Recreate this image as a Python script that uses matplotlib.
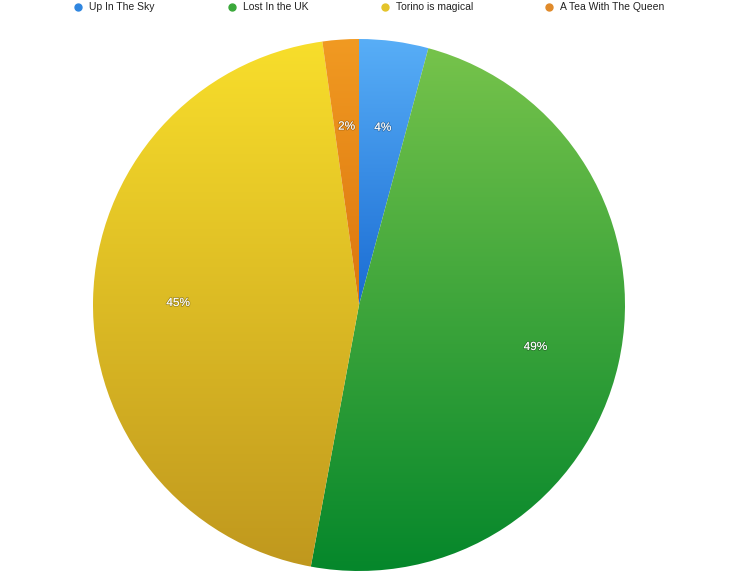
import numpy as np
import matplotlib
matplotlib.use('Agg')
import matplotlib.pyplot as plt
import matplotlib.patheffects as pe
from matplotlib.colors import LinearSegmentedColormap

# data
labels = ['Up In The Sky', 'Lost In the UK', 'Torino is magical', 'A Tea With The Queen']
values = [4.2, 48.7, 44.9, 2.2]
pct_text = ['4%', '49%', '45%', '2%']
# gradient colours per slice (top, bottom)
top_colors = ['#58aef7', '#76c34b', '#f8de2b', '#f19a22']
bottom_colors = ['#1a6cd3', '#05872b', '#c0981e', '#dc760e']
legend_colors = ['#2f86e0', '#3aa83a', '#e4c42a', '#e08a2a']

W, H = 734, 573
fig = plt.figure(figsize=(W / 100, H / 100), dpi=100)
ax = fig.add_axes([0, 0, 1, 1])

cx, cy, r = 359, H - 305, 266
wedges, _ = ax.pie(values, startangle=90, counterclock=False, center=(cx, cy),
                   radius=r, frame=True, wedgeprops=dict(linewidth=0))
ax.set_xlim(0, W)
ax.set_ylim(0, H)
ax.set_aspect('equal')
ax.axis('off')

grad = np.linspace(0, 1, 256).reshape(-1, 1)
for w, c1, c2 in zip(wedges, top_colors, bottom_colors):
    w.set_facecolor('none')
    ext = w.get_path().get_extents(w.get_patch_transform())
    cmap = LinearSegmentedColormap.from_list('g', [c1, c2])
    im = ax.imshow(grad, cmap=cmap, aspect='auto', origin='upper',
                   extent=[ext.x0, ext.x1, ext.y0, ext.y1], zorder=1)
    im.set_clip_path(w)

# percentage labels
total = sum(values)
ang = 90.0
for v, t in zip(values, pct_text):
    mid = np.deg2rad(ang - v / total * 360 / 2)
    ang -= v / total * 360
    ax.text(cx + 0.68 * r * np.cos(mid), cy + 0.68 * r * np.sin(mid) - 2, t,
            color='white', fontsize=8.5, ha='center', va='center', zorder=3,
            fontfamily='Liberation Sans',
            path_effects=[pe.withStroke(linewidth=1.2, foreground=(0, 0, 0, 0.25))])

# legend row along the top
leg_x = [78, 232, 385, 549]
for x, lab, c in zip(leg_x, labels, legend_colors):
    ax.plot([x], [H - 7], marker='o', markersize=5, color=c, linestyle='',
            clip_on=False, zorder=4)
    ax.text(x + 11, H - 7, lab, fontsize=7.5, fontfamily='Liberation Sans',
            ha='left', va='center', color='#222222')

fig.savefig('out.png', dpi=100)
